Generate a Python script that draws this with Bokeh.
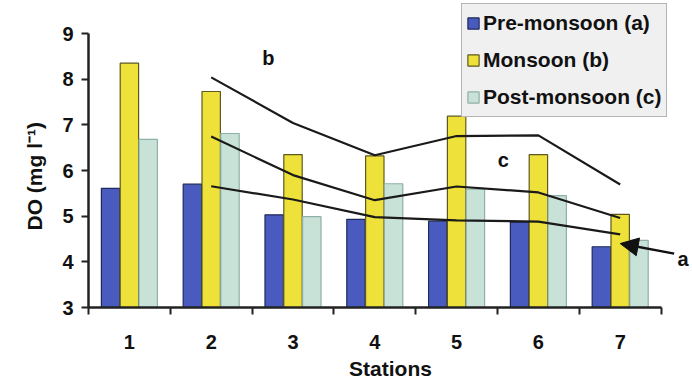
from bokeh.plotting import figure
from bokeh.models import FixedTicker, Legend, LegendItem, Label, Arrow, NormalHead, ColumnDataSource, Title
from bokeh.embed import file_html
from bokeh.resources import INLINE

stations = [1, 2, 3, 4, 5, 6, 7]
pre_monsoon = [5.61, 5.70, 5.03, 4.93, 4.89, 4.87, 4.33]
monsoon = [8.35, 7.73, 6.35, 6.32, 7.19, 6.35, 5.04]
post_monsoon = [6.68, 6.81, 4.99, 5.71, 5.59, 5.45, 4.47]
tick_labels = ["1", "2", "3", "4", "5", "6", "7"]


def moving_avg(v):
    return [(v[i - 1] + v[i]) / 2 for i in range(1, len(v))]


p = figure(width=692, height=385, output_backend="svg", toolbar_location=None,
           x_range=(0.5, 7.884), y_range=(3, 9.723),
           min_border_left=88, min_border_right=0, min_border_top=0, min_border_bottom=78)
p.outline_line_color = None
p.grid.grid_line_color = None
p.background_fill_color = "white"

bw = 0.225
off = 0.23
cols = [("#4a5bbf", "#1e2a5a"), ("#eee13a", "#5e5820"), ("#c8e2d8", "#8fb0a8")]
series = [pre_monsoon, monsoon, post_monsoon]
renderers = []
for k, (vals, (fc, lc)) in enumerate(zip(series, cols)):
    xs = [s + (k - 1) * off for s in stations]
    src = ColumnDataSource(dict(x=xs, top=vals))
    r = p.vbar(x="x", top="top", bottom=3, width=bw, source=src,
               fill_color=fc, line_color=lc, line_width=1.2)
    renderers.append(r)

for vals in series:
    p.line(stations[1:], moving_avg(vals), line_color="#1a1a1a", line_width=2.2)

font = "Liberation Sans"

# axes
p.yaxis.bounds = (3, 9)
p.yaxis.ticker = FixedTicker(ticks=[3, 4, 5, 6, 7, 8, 9])
p.yaxis.axis_line_width = 2.5
p.yaxis.axis_line_color = "#222222"
p.yaxis.major_tick_line_width = 2
p.yaxis.major_tick_line_color = "#222222"
p.yaxis.major_tick_in = 0
p.yaxis.major_tick_out = 7
p.yaxis.minor_tick_line_color = None
p.yaxis.major_label_text_font = font
p.yaxis.major_label_text_font_style = "bold"
p.yaxis.major_label_text_font_size = "20px"
p.yaxis.major_label_text_color = "#111111"
p.yaxis.major_label_standoff = 8

ytitle = Title(text="DO (mg l\u207b\u00b9)", align="left", offset=77, standoff=28,
               text_font=font, text_font_style="bold", text_font_size="21px",
               text_color="#111111")
p.add_layout(ytitle, "left")

p.xaxis.bounds = (0.5, 7.5)
p.xaxis.ticker = FixedTicker(ticks=stations, minor_ticks=[0.5 + i for i in range(8)])
p.xaxis.major_label_overrides = {s: t for s, t in zip(stations, tick_labels)}
p.xaxis.axis_line_width = 2.5
p.xaxis.axis_line_color = "#222222"
p.xaxis.major_tick_line_color = None
p.xaxis.minor_tick_line_width = 2
p.xaxis.minor_tick_line_color = "#222222"
p.xaxis.minor_tick_in = 0
p.xaxis.minor_tick_out = 7
p.xaxis.major_label_text_font = font
p.xaxis.major_label_text_font_style = "bold"
p.xaxis.major_label_text_font_size = "20px"
p.xaxis.major_label_text_color = "#111111"
p.xaxis.major_label_standoff = 20
p.xaxis.axis_label = "Stations"
p.xaxis.axis_label_text_font = font
p.xaxis.axis_label_text_font_style = "bold"
p.xaxis.axis_label_text_font_size = "21px"
p.xaxis.axis_label_text_color = "#111111"
p.xaxis.axis_label_standoff = 5

legend = Legend(items=[LegendItem(label="Pre-monsoon (a)", renderers=[renderers[0]]),
                       LegendItem(label="Monsoon (b)", renderers=[renderers[1]]),
                       LegendItem(label="Post-monsoon (c)", renderers=[renderers[2]])],
                location=(373, 190))
legend.label_text_font = font
legend.label_text_font_style = "bold"
legend.label_text_font_size = "21px"
legend.label_text_color = "#111111"
legend.glyph_width = 14
legend.glyph_height = 14
legend.label_standoff = 3
legend.spacing = 7
legend.padding = 4
legend.margin = 0
legend.label_height = 30
legend.border_line_color = "#777777"
legend.border_line_width = 1.5
legend.background_fill_color = "#f0f0f0"
legend.background_fill_alpha = 1
p.add_layout(legend)

for txt, xx, yy in [("b", 2.70, 8.47), ("c", 5.57, 6.22), ("a", 7.77, 4.07)]:
    p.add_layout(Label(x=xx, y=yy, text=txt, text_font=font, text_font_style="bold",
                       text_font_size="20px", text_color="#111111",
                       text_align="center", text_baseline="middle"))

p.add_layout(Arrow(x_start=7.66, y_start=4.18, x_end=7.00, y_end=4.40,
                   line_width=2.5, line_color="#111111",
                   end=NormalHead(size=18, fill_color="#111111", line_color="#111111")))

open("out.html", "w").write(file_html(p, INLINE))
